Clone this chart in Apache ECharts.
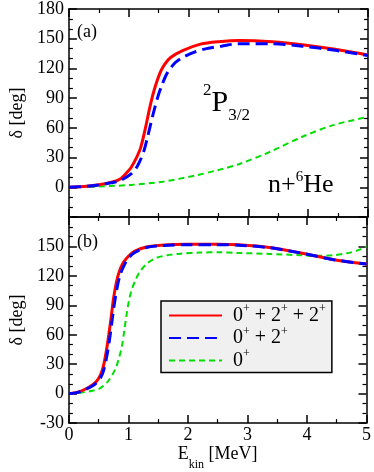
<!DOCTYPE html>
<html>
<head>
<meta charset="UTF-8">
<script src="https://cdn.jsdelivr.net/npm/echarts@6/dist/echarts.min.js"></script>
<style>
  html, body { margin: 0; padding: 0; background: #fff; }
  #main { width: 374px; height: 472px; }
</style>
</head>
<body>
<div id="main"></div>
<script>
// x ticks (MeV) and y ticks (deg)
const xTicks = [0, 1, 2, 3, 4, 5];
const yTicks = [-30, 0, 30, 60, 90, 120, 150, 180];

// legend names
const names = ['0+ + 2+ + 2+', '0+ + 2+', '0+'];

// panel (a): [E_kin, delta]
const aFull = [[0,0],[0.3,1],[0.5,2.5],[0.7,5],[0.85,8],[1.0,17],[1.05,21],[1.13,30],[1.2,40],[1.28,60],[1.35,80],[1.42,97],[1.52,115],[1.6,124],[1.7,131],[1.9,138],[2.2,144.5],[2.5,147],[2.85,148.3],[3.4,147],[3.9,144],[4.45,139.3],[5,133.5]];
const aTwo = [[0,0],[0.3,1],[0.5,2.3],[0.7,4.5],[0.85,6.5],[1.05,14],[1.15,22],[1.25,36],[1.32,52],[1.4,72],[1.48,90],[1.56,104],[1.65,116],[1.78,126],[1.9,131],[2.1,136.5],[2.3,140],[2.55,142.5],[2.85,145],[3.4,145],[3.9,142.5],[4.45,138.3],[5,133]];
const aZero = [[0,0],[0.5,0.8],[1.04,2.4],[1.57,5.7],[2.1,11.7],[2.5,17.5],[2.85,23.5],[3.37,36],[3.9,51],[4.43,63],[5,71]];

// panel (b)
const bFull = [[0,0],[0.15,1.5],[0.29,5],[0.4,9],[0.47,13],[0.53,19],[0.58,28],[0.63,44],[0.67,60],[0.71,78],[0.75,97],[0.8,114],[0.85,125],[0.92,134],[1.0,140],[1.1,145],[1.3,149.5],[1.6,151.5],[2.0,152.2],[2.5,152.3],[2.85,151.7],[3.37,149],[3.9,143.4],[4.43,136.8],[5,132]];
const bTwo = [[0,0],[0.15,1.3],[0.29,4.5],[0.4,8],[0.47,11.5],[0.53,16],[0.58,23],[0.63,36],[0.68,54],[0.72,72],[0.76,90],[0.81,108],[0.86,121],[0.93,131],[1.0,138],[1.1,143.5],[1.3,149],[1.6,151],[2.0,151.7],[2.5,151.8],[2.85,151.3],[3.37,148.7],[3.9,143.3],[4.43,136.7],[5,132]];
const bZero = [[0,0],[0.2,1],[0.4,3],[0.51,5],[0.65,12],[0.78,25],[0.84,36],[0.89,48],[0.93,64],[0.97,81],[1.01,95],[1.05,105],[1.12,116],[1.2,125],[1.32,133],[1.47,138.4],[1.65,141],[1.84,142.4],[2.2,143.8],[2.53,144],[2.83,143.4],[3.37,142.4],[3.9,141],[4.17,140.4],[4.43,141],[4.7,143.4],[4.85,146],[5,150]];

const FONT = "'Liberation Serif', 'Times New Roman', serif";
const chart = echarts.init(document.getElementById('main'), null, { renderer: 'canvas' });

const frame = { show: true, onZero: false, lineStyle: { color: '#000', width: 1.5 } };
const tick = { show: true, inside: true, length: 8, lineStyle: { color: '#000', width: 1.5 } };
const minor = (n) => ({ show: true, splitNumber: n, length: 4, lineStyle: { color: '#000', width: 1.2 } });
const lbl = { fontFamily: FONT, fontSize: 18, color: '#000' };

function xAxis(grid, pos, labels) {
  const ax = {
    type: 'value', gridIndex: grid, position: pos,
    min: xTicks[0], max: xTicks[xTicks.length - 1], interval: 1,
    axisLine: frame, axisTick: tick, minorTick: minor(2),
    splitLine: { show: false }, minorSplitLine: { show: false },
    axisLabel: labels ? Object.assign({ margin: 3 }, lbl) : { show: false }
  };
  if (labels) {
    ax.name = '{e|E}{k|kin}{e| [MeV]}';
    ax.nameLocation = 'middle';
    ax.nameGap = 20;
    ax.nameTextStyle = { fontFamily: FONT, color: '#000',
      rich: { e: { fontFamily: FONT, fontSize: 18, color: '#000', lineHeight: 20, verticalAlign: 'top' },
              k: { fontFamily: FONT, fontSize: 12, color: '#000', lineHeight: 26, verticalAlign: 'bottom' } } };
  }
  return ax;
}

function yAxis(grid, pos, hide) {
  const ax = {
    type: 'value', gridIndex: grid, position: pos,
    min: yTicks[0], max: yTicks[yTicks.length - 1], interval: 30,
    axisLine: frame, axisTick: tick, minorTick: minor(3),
    splitLine: { show: false }, minorSplitLine: { show: false },
    axisLabel: pos === 'left'
      ? Object.assign({ margin: 5, formatter: (v) => (v === hide ? '' : String(v)) }, lbl)
      : { show: false }
  };
  if (pos === 'left') {
    ax.name = 'δ [deg]';
    ax.nameLocation = 'middle';
    ax.nameGap = 37;
    ax.nameTextStyle = { fontFamily: FONT, fontSize: 18, color: '#000' };
  }
  return ax;
}

const styles = [
  { color: '#ff0000', width: 3, type: 'solid', z: 3 },
  { color: '#0000ff', width: 3, type: [12, 6], z: 4 },
  { color: '#00e000', width: 2, type: [6, 4], z: 2 }
];

function line(name, data, idx, st) {
  return {
    type: 'line', name: name, data: data,
    xAxisIndex: idx, yAxisIndex: idx,
    smooth: 0.3, symbol: 'none', z: st.z,
    lineStyle: { color: st.color, width: st.width, type: st.type },
    itemStyle: { color: st.color }
  };
}

const supRich = {
  b: { fontFamily: FONT, fontSize: 20, color: '#000', lineHeight: 25 },
  s: { fontFamily: FONT, fontSize: 12, color: '#000', lineHeight: 14, verticalAlign: 'top' }
};
const legendText = {
  '0+ + 2+ + 2+': '{b|0}{s|+}{b| + 2}{s|+}{b| + 2}{s|+}',
  '0+ + 2+': '{b|0}{s|+}{b| + 2}{s|+}',
  '0+': '{b|0}{s|+}'
};

const option = {
  animation: false,
  backgroundColor: '#fff',
  grid: [
    { left: 57, right: 6, top: 7, height: 210 },
    { left: 57, right: 6, top: 217, height: 210 }
  ],
  xAxis: [xAxis(0, 'bottom', false), xAxis(0, 'top', false), xAxis(1, 'bottom', true), xAxis(1, 'top', false)],
  yAxis: [yAxis(0, 'left', -30), yAxis(0, 'right'), yAxis(1, 'left', 180), yAxis(1, 'right')],
  legend: {
    data: names,
    orient: 'vertical', left: 161, top: 301,
    itemWidth: 53, itemHeight: 25, itemGap: 0,
    padding: [2, 6, 2, 7],
    backgroundColor: '#f0f0f0', borderColor: '#000', borderWidth: 1.5, borderRadius: 0,
    itemStyle: { opacity: 0 },
    formatter: (n) => legendText[n],
    textStyle: { fontFamily: FONT, fontSize: 20, color: '#000', padding: [0, 0, 0, 6], rich: supRich }
  },
  graphic: [
    { type: 'text', style: { text: '(a)', x: 77, y: 32, verticalAlign: 'middle', fontFamily: FONT, fontSize: 18, fill: '#000' } },
    { type: 'text', style: { text: '(b)', x: 77, y: 242, verticalAlign: 'middle', fontFamily: FONT, fontSize: 18, fill: '#000' } },
    { type: 'text', style: { text: '{sp|2}{p|P}{sb|3/2}', x: 203, y: 103, verticalAlign: 'middle', fill: '#000',
        rich: { p: { fontFamily: FONT, fontSize: 30, lineHeight: 42, fill: '#000' },
                sp: { fontFamily: FONT, fontSize: 17, lineHeight: 17, verticalAlign: 'top', fill: '#000' },
                sb: { fontFamily: FONT, fontSize: 17, lineHeight: 17, verticalAlign: 'bottom', fill: '#000' } } } },
    { type: 'text', style: { text: '{b|n+}{sp|6}{b|He}', x: 268, y: 185, verticalAlign: 'middle', fill: '#000',
        rich: { b: { fontFamily: FONT, fontSize: 26, lineHeight: 30, fill: '#000' },
                sp: { fontFamily: FONT, fontSize: 15, lineHeight: 15, verticalAlign: 'top', fill: '#000' } } } }
  ],
  series: [
    line(names[0], aFull, 0, styles[0]),
    line(names[1], aTwo, 0, styles[1]),
    line(names[2], aZero, 0, styles[2]),
    line(names[0], bFull, 2, styles[0]),
    line(names[1], bTwo, 2, styles[1]),
    line(names[2], bZero, 2, styles[2])
  ]
};

chart.setOption(option);
window.addEventListener('resize', () => chart.resize());
</script>
</body>
</html>
